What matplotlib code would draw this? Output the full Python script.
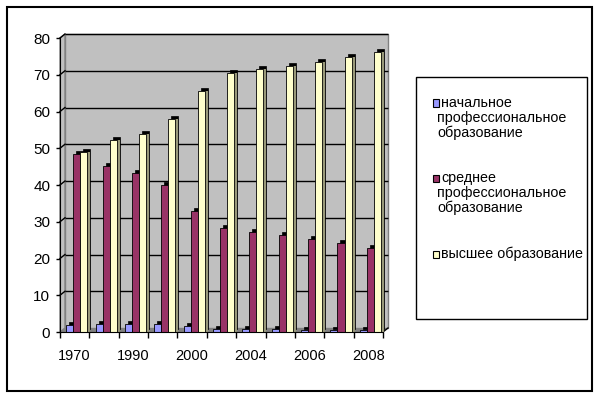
import numpy as np
import matplotlib
matplotlib.use('Agg')
import matplotlib.pyplot as plt
from matplotlib.patches import Rectangle, Polygon
from matplotlib.transforms import offset_copy, IdentityTransform

# данные
years = ['1970', '1980', '1990', '1995', '2000', '2003', '2004', '2005', '2006', '2007', '2008']
nachalnoe = [1.8, 2.3, 2.3, 2.3, 1.5, 0.8, 0.8, 0.8, 0.6, 0.6, 0.6]
srednee = [48.5, 45.2, 43.4, 39.9, 32.8, 28.3, 27.1, 26.5, 25.4, 24.2, 22.8]
vysshee = [49.1, 52.3, 53.9, 58.0, 65.5, 70.6, 71.5, 72.3, 73.4, 74.7, 76.3]
series_names = [['начальное', 'профессиональное', 'образование'],
                ['среднее', 'профессиональное', 'образование'],
                ['высшее образование']]
yticks = list(range(0, 81, 10))

plt.rcParams['font.family'] = ['Liberation Sans', 'DejaVu Sans']

W, H = 599, 399
fig = plt.figure(figsize=(W / 100, H / 100), dpi=100)
ax = fig.add_axes([60 / W, 67 / H, 323 / W, 294 / H])
ax.patch.set_visible(False)
ax.set_xlim(-0.5, len(years) - 0.5)
ax.set_ylim(0, 80)
ax.set_autoscale_on(False)

DX, DY = 5, 4  # глубина "3D" стенок в пикселях
d = np.array([DX, DY])

# задняя стенка
back = offset_copy(ax.transAxes, fig, x=DX, y=DY, units='dots')
ax.add_patch(Rectangle((0, 0), 1, 1, transform=back, fc='#c0c0c0', ec='#808080',
                       lw=1, zorder=0, clip_on=False))

# пол и левая стенка
p00 = ax.transAxes.transform((0, 0))
p10 = ax.transAxes.transform((1, 0))
p01 = ax.transAxes.transform((0, 1))
ax.add_patch(Polygon([p00, p10, p10 + d, p00 + d], transform=IdentityTransform(),
                     fc='#808080', ec='none', zorder=0.5, clip_on=False))
ax.add_patch(Polygon([p00, p01, p01 + d, p00 + d], transform=IdentityTransform(),
                     fc='#c0c0c0', ec='#808080', lw=1, zorder=0.4, clip_on=False))
ax.plot([p10[0], p10[0] + DX], [p10[1], p10[1] + DY], color='black', lw=1,
        transform=IdentityTransform(), clip_on=False, zorder=3)

# сетка на стенках
ax.hlines(yticks[1:], 0, 1, transform=offset_copy(ax.get_yaxis_transform(), fig, x=DX, y=DY, units='dots'),
          colors='black', lw=1, zorder=0.6, clip_on=False)
for yv in yticks[1:]:
    pf = ax.get_yaxis_transform().transform((0, yv))
    ax.plot([pf[0], pf[0] + DX], [pf[1], pf[1] + DY], color='black', lw=1,
            transform=IdentityTransform(), clip_on=False, zorder=0.6)

# столбцы: чёрная "крышка", боковая грань, передняя грань
x = np.arange(len(years))
w = 0.24
front_colors = ['#9999ff', '#993366', '#ffffcc']
side_colors = ['#5c5c99', '#4d1a33', '#99997a']
cap = offset_copy(ax.transData, fig, x=3, y=3, units='dots')
side = offset_copy(ax.transData, fig, x=3, y=0, units='dots')
for i, vals in enumerate([nachalnoe, srednee, vysshee]):
    xs = x + (i - 1) * w + 0.07
    z = 2 + 3 * i
    ax.bar(xs, vals, w, color='black', edgecolor='black', lw=0.5,
           transform=cap, zorder=z, clip_on=False)
    ax.bar(xs, vals, w, color=side_colors[i], edgecolor='none',
           transform=side, zorder=z + 1, clip_on=False)
    ax.bar(xs, vals, w, color=front_colors[i], edgecolor='black', lw=0.6,
           zorder=z + 2, clip_on=False)

# оси
for s in ['top', 'right']:
    ax.spines[s].set_visible(False)
ax.spines['left'].set_zorder(20)
ax.spines['bottom'].set_zorder(20)
ax.set_yticks(yticks)
ax.tick_params(axis='y', direction='out', length=3, width=1, labelsize=11, pad=4)
ax.set_xticks(np.arange(-0.5, len(years), 1))
ax.set_xticklabels([])
ax.tick_params(axis='x', which='major', direction='out', length=4, width=1)
ax.set_xticks(x[::2], minor=True)
ax.set_xticklabels(years[::2], minor=True)
ax.tick_params(axis='x', which='minor', length=0, labelsize=10.5, pad=12)

# легенда (рамка, маркеры и подписи в пикселях фигуры)
fig.add_artist(Rectangle((416 / W, 1 - 319 / H), (587 - 416) / W, (319 - 77) / H,
                         transform=fig.transFigure, fc='white', ec='black', lw=1))
entry_y = [103, 178, 254]
for i, lines in enumerate(series_names):
    y0 = entry_y[i]
    fig.add_artist(Rectangle((433 / W, 1 - (y0 + 3.5) / H), 6 / W, 7 / H,
                             transform=fig.transFigure, fc=front_colors[i], ec='black', lw=0.8))
    for k, line in enumerate(lines):
        tx = 441 if k == 0 else 437
        fig.text(tx / W, 1 - (y0 + 15 * k) / H, line, fontsize=10.3, va='center', ha='left')

# внешняя рамка
fig.add_artist(Rectangle((6.5 / W, 1 - 390.5 / H), (591.5 - 6.5) / W, (390.5 - 6.5) / H,
                         transform=fig.transFigure, fill=False, ec='black', lw=1.5))

fig.savefig('out.png', dpi=100)
